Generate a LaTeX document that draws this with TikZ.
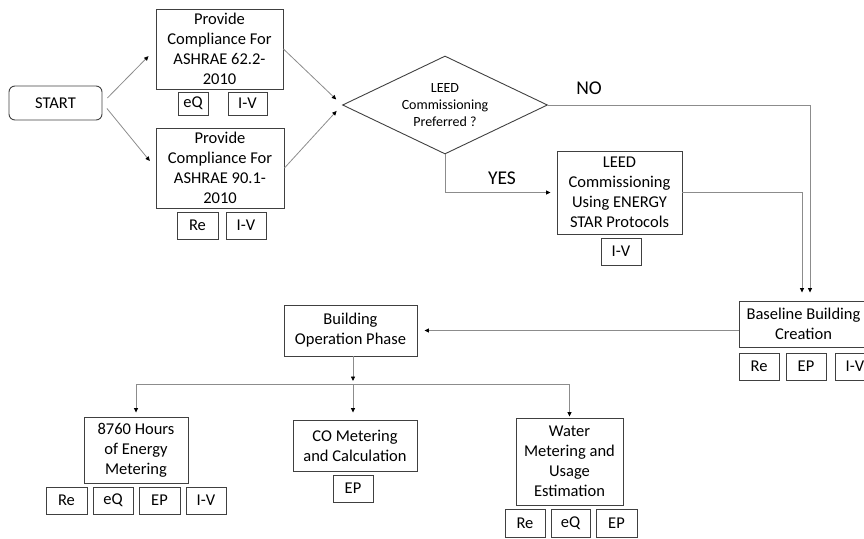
\documentclass[tikz,border=0pt]{standalone}
\usepackage{fontspec}
\setmainfont{Carlito}
\usetikzlibrary{arrows.meta,shapes.geometric,calc}
\definecolor{boxc}{HTML}{404040}
\definecolor{linec}{HTML}{8C8C8C}
\begin{document}
\begin{tikzpicture}[x=1pt,y=-1pt,
  box/.style={draw=boxc, line width=0.9pt, inner sep=0pt, align=center, font=\fontsize{16.5}{20}\selectfont},
  tag/.style={box, minimum height=27pt},
  conn/.style={draw=linec, line width=0.8pt},
  arr/.style={conn, -{Triangle[length=4.5pt,width=4pt,color=black]}},
  lbl/.style={inner sep=0pt, font=\fontsize{19.5}{22}\selectfont}
]
\useasboundingbox (0,0) rectangle (864,538);
% top row
\node[box, rounded corners=6pt, minimum width=93pt, minimum height=34pt] (start) at (55.5,103) {START};
\node[box, minimum width=127pt, minimum height=80pt] (c1) at (219.5,49) {Provide\\Compliance For\\ASHRAE 62.2-\\2010};
\node[tag, minimum width=30pt, minimum height=23pt] (c1a) at (193,103.5) {eQ};
\node[tag, minimum width=39pt, minimum height=23pt] (c1b) at (247.5,103.5) {I-V};
\node[box, minimum width=128pt, minimum height=80pt] (c2) at (220,168) {Provide\\Compliance For\\ASHRAE 90.1-\\2010};
\node[tag, minimum width=41pt] (c2a) at (197.5,225.5) {Re};
\node[tag, minimum width=40pt] (c2b) at (246,225.5) {I-V};
\node[diamond, draw=boxc, line width=0.9pt, aspect=2.09, minimum width=205pt, minimum height=98pt, inner sep=0pt, align=center, font=\fontsize{14}{17}\selectfont] (dec) at (445,105) {LEED\\Commissioning\\Preferred ?};
\node[lbl] (no) at (589,88) {NO};
\node[lbl] (yes) at (502,178) {YES};
\node[box, minimum width=125pt, minimum height=83pt] (leed) at (619.5,192.5) {LEED\\Commissioning\\Using ENERGY\\STAR Protocols};
\node[tag, minimum width=40pt] (leedt) at (621,251.5) {I-V};
% baseline
\node[box, minimum width=129pt, minimum height=46pt] (base) at (803.5,324) {Baseline Building\\Creation};
\node[tag, minimum width=40pt] (basea) at (759,366.5) {Re};
\node[tag, minimum width=40pt] (baseb) at (806,366.5) {EP};
\node[tag, minimum width=40pt] (basec) at (855,366.5) {I-V};
% operation
\node[box, minimum width=133pt, minimum height=51pt] (bop) at (350.5,330.5) {Building\\Operation Phase};
\node[box, minimum width=104pt, minimum height=66pt] (e87) at (136,450) {8760 Hours\\of Energy\\Metering};
\node[tag, minimum width=41pt] (e87a) at (66.5,500.5) {Re};
\node[tag, minimum width=40pt] (e87b) at (113,500.5) {eQ};
\node[tag, minimum width=41pt] (e87c) at (159.5,500.5) {EP};
\node[tag, minimum width=40pt] (e87d) at (206,500.5) {I-V};
\node[box, minimum width=124pt, minimum height=51pt] (co) at (355,445.5) {CO Metering\\and Calculation};
\node[tag, minimum width=40pt] (cot) at (353,488.5) {EP};
\node[box, minimum width=107pt, minimum height=87pt] (wat) at (569.5,461.5) {Water\\Metering and\\Usage\\Estimation};
\node[tag, minimum width=40pt, minimum height=28pt] (wata) at (525,523) {Re};
\node[tag, minimum width=39pt, minimum height=28pt] (watb) at (570.5,523) {eQ};
\node[tag, minimum width=41pt, minimum height=28pt] (watc) at (616.5,523) {EP};
% connectors
\draw[arr, shorten <=7pt, shorten >=10pt] (start.east) -- (c1.west);
\draw[arr, shorten <=7pt, shorten >=9pt] (start.east) -- (c2.west);
\draw[arr, shorten >=8pt] (c1.east) -- (dec.west);
\draw[arr, shorten >=8pt] (c2.east) -- (dec.west);
\draw[arr, shorten >=8pt] (dec.east) -| ([xshift=6.5pt]base.north);
\draw[arr, shorten >=6pt] (dec.south) |- (leed.west);
\draw[arr, shorten >=8pt] (leed.east) -| ([xshift=-1.5pt]base.north);
\draw[arr, shorten >=7pt] (base.west |- bop.east) -- (bop.east);
\coordinate (j) at (353,384);
\draw[arr, shorten >=3pt] (bop.south -| j) -- (j);
\draw[conn] (j -| e87) -- (j -| wat);
\draw[arr, shorten >=4pt] (j -| e87) -- (e87.north);
\draw[arr, shorten >=7pt] (j) -- (j |- co.north);
\draw[arr, shorten >=1pt] (j -| wat) -- (wat.north);
\end{tikzpicture}
\end{document}
